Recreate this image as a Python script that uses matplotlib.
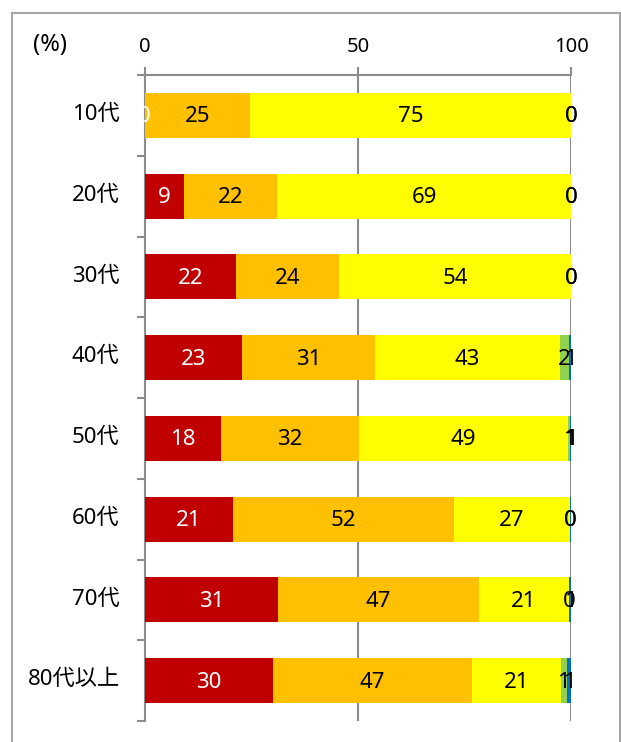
import matplotlib
import matplotlib.pyplot as plt
import numpy as np
from matplotlib.patches import Rectangle

matplotlib.use("Agg")

plt.rcParams["font.family"] = ["Noto Sans", "Noto Sans CJK JP", "DejaVu Sans"]

# data (percent)
categories = ["10代", "20代", "30代", "40代", "50代", "60代", "70代", "80代以上"]
red_vals = [0.0, 9.2, 21.5, 22.9, 17.8, 20.6, 31.3, 30.0]
orange_vals = [24.8, 21.8, 24.1, 31.1, 32.4, 51.8, 47.1, 46.8]
yellow_vals = [75.2, 69.0, 54.4, 43.4, 49.0, 27.3, 21.0, 20.7]
green_vals = [0.0, 0.0, 0.0, 2.0, 0.6, 0.0, 0.1, 1.4]
blue_vals = [0.0, 0.0, 0.0, 0.6, 0.6, 0.3, 0.6, 1.1]
x_ticks = [0, 50, 100]

series = [
    (red_vals, "#C00000", "white"),
    (orange_vals, "#FFC000", "black"),
    (yellow_vals, "#FFFF00", "black"),
    (green_vals, "#92D050", "black"),
    (blue_vals, "#0070C0", "black"),
]

W, H = 621, 742
fig = plt.figure(figsize=(W / 100, H / 100), dpi=100)
ax = fig.add_axes([144.7 / W, 1 - 721 / H, (571.3 - 144.7) / W, (721 - 75) / H])

y = np.arange(len(categories))
left = np.zeros(len(categories))
for vals, color, txt_color in series:
    vals = np.array(vals)
    ax.barh(y, vals, left=left, height=0.56, color=color, zorder=3)
    for yi, (l, v) in enumerate(zip(left, vals)):
        ax.text(l + v / 2, yi + 0.02, f"{int(np.floor(v + 0.5))}", ha="center",
                va="center", fontsize=16, color=txt_color, zorder=4)
    left += vals

ax.set_xlim(0, 100)
ax.set_ylim(len(categories) - 0.5, -0.5)

grey = "#8c8c8c"
for sp in ["right", "bottom"]:
    ax.spines[sp].set_visible(False)
for sp in ["left", "top"]:
    ax.spines[sp].set_color(grey)
    ax.spines[sp].set_linewidth(1.5)

ax.xaxis.tick_top()
ax.set_xticks(x_ticks)
ax.set_xticklabels([str(t) for t in x_ticks])
ax.tick_params(axis="x", length=6, width=1.5, color=grey, pad=7,
               labelsize=14.5)
for xv in x_ticks[1:]:
    ax.axvline(xv, color=grey, lw=1.5, zorder=1)

ax.set_yticks(np.arange(len(categories) + 1) - 0.5)
ax.set_yticklabels([])
ax.tick_params(axis="y", which="major", length=6, width=1.5, color=grey)
ax.set_yticks(y - 0.04, minor=True)
ax.set_yticklabels(categories, minor=True)
ax.tick_params(axis="y", which="minor", length=0, pad=18, labelsize=16)

fig.text(50 / W, 1 - 45 / H, "(%)", ha="center", va="center", fontsize=17)

fig.patches.append(Rectangle((12 / W, -0.05), (W - 12) / W - 0.002, 1.05 - 13 / H,
                             transform=fig.transFigure, fill=False,
                             edgecolor="#a6a6a6", lw=1.5))

fig.savefig("out.png", dpi=100)
